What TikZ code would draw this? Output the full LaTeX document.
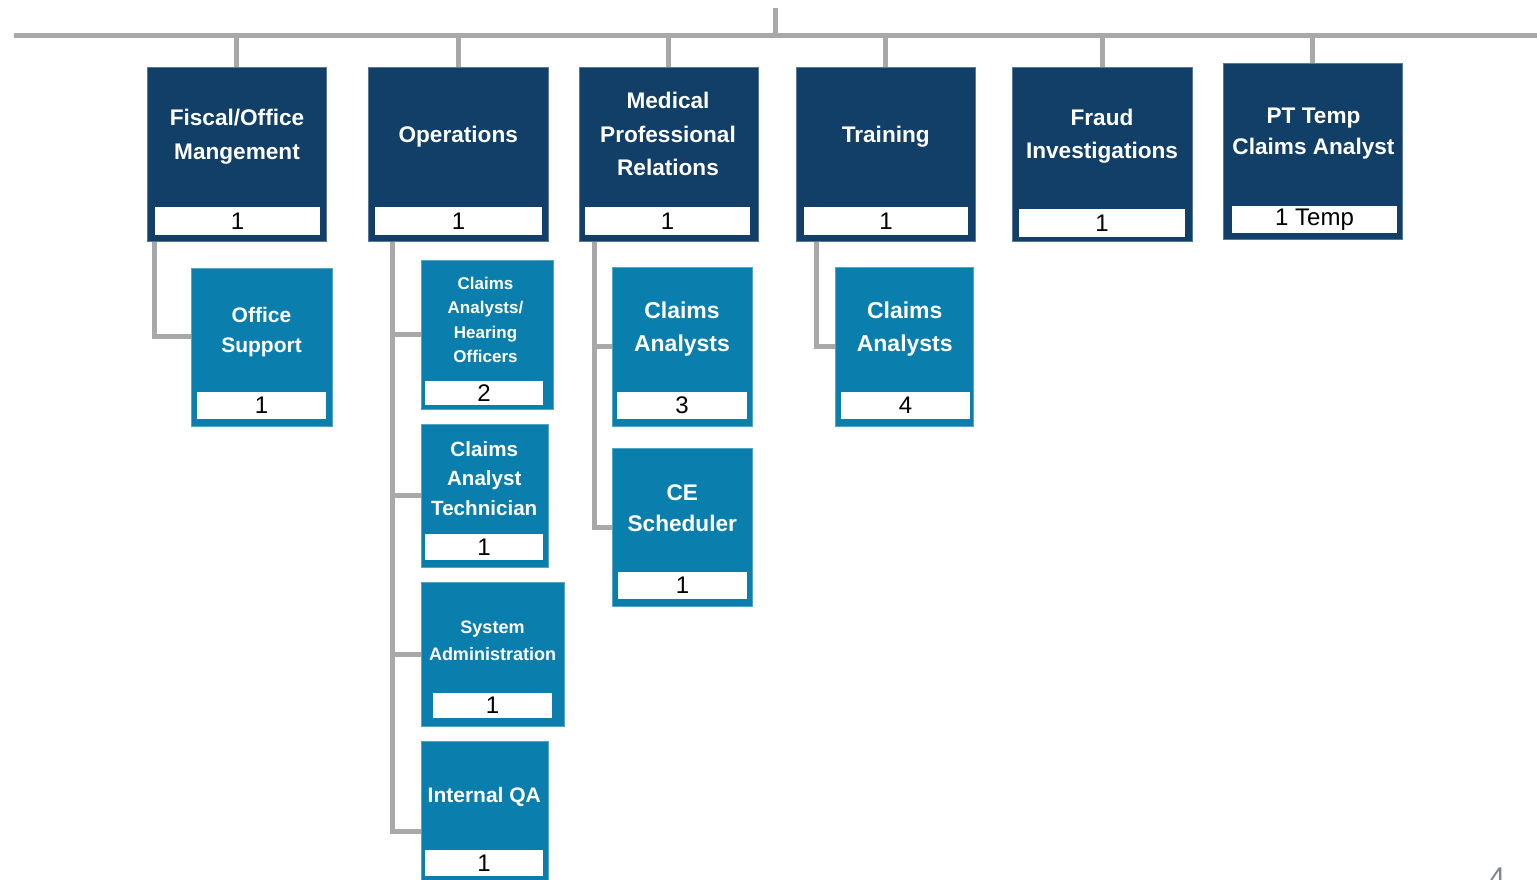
\documentclass[tikz,border=0pt]{standalone}
\usepackage{fontspec}
\setmainfont{Liberation Sans}
\usetikzlibrary{fit,calc}

\definecolor{orgnavy}{HTML}{113F67}
\definecolor{orgteal}{HTML}{0A7EAD}
\definecolor{linkgray}{HTML}{A8A8A8}
\definecolor{pagegray}{HTML}{7F8690}

\tikzset{
  link/.style={draw=linkgray, line width=2.5pt},
  mainbox/.style={fill=orgnavy, draw=orgnavy!70!white, line width=0.5pt, inner sep=0pt},
  subbox/.style={fill=orgteal, draw=orgteal!70!white, line width=0.5pt, inner sep=0pt},
  countbar/.style={fill=white, inner sep=0pt},
  countnum/.style={inner sep=0pt, font=\fontsize{12}{14}\selectfont},
  title/.style={text=white, align=center, inner sep=0pt},
  headtext/.style={title, font=\bfseries\fontsize{11.3}{16.8}\selectfont}
}

\begin{document}
\begin{tikzpicture}[x=0.5pt, y=-0.5pt]
  \useasboundingbox (0,0) rectangle (1537,879);
  \coordinate (busL) at (14,35.5);
  \coordinate (busR) at (1537,35.5);
  \coordinate (head) at (775,8);

  % first row
  \node[mainbox, fit={(147,67) (326,241)}] (fisc) {};
  \node[countbar, fit={(155,207) (320,235)}, label={[countnum]center:1}] (fiscN) {};
  \node[headtext] (fiscT) at ($(fisc.north)!0.5!(fiscN.north)$) {Fiscal/Office\\Mangement};

  \node[mainbox, fit={(368,67) (548,241)}] (ops) {};
  \node[countbar, fit={(375,207) (542,235)}, label={[countnum]center:1}] (opsN) {};
  \node[headtext] (opsT) at ($(ops.north)!0.5!(opsN.north)$) {Operations};

  \node[mainbox, fit={(579,67) (758,241)}] (med) {};
  \node[countbar, fit={(585,207) (750,235)}, label={[countnum]center:1}] (medN) {};
  \node[headtext, yshift=1.25pt] (medT) at ($(med.north)!0.5!(medN.north)$) {Medical\\Professional\\Relations};

  \node[mainbox, fit={(796,67) (975,241)}] (train) {};
  \node[countbar, fit={(804,207) (968,235)}, label={[countnum]center:1}] (trainN) {};
  \node[headtext] (trainT) at ($(train.north)!0.5!(trainN.north)$) {Training};

  \node[mainbox, fit={(1012,67) (1192,241)}] (fraud) {};
  \node[countbar, fit={(1019,209) (1185,237)}, label={[countnum]center:1}] (fraudN) {};
  \node[headtext, yshift=0.75pt] (fraudT) at ($(fraud.north)!0.5!(fraudN.north)$) {Fraud\\Investigations};

  \node[mainbox, fit={(1223,63) (1402,239)}] (pt) {};
  \node[countbar, fit={(1232,206) (1397,233)}, label={[countnum]center:1 Temp}] (ptN) {};
  \node[headtext, font=\bfseries\fontsize{11.3}{15.5}\selectfont] (ptT)
    at ($(pt.north)!0.5!(ptN.north)$) {PT Temp\\Claims Analyst};

  % second level
  \node[subbox, fit={(191,268) (332,426)}] (office) {};
  \node[countbar, fit={(197,392) (326,419)}, label={[countnum]center:1}] (officeN) {};
  \node[title, font=\bfseries\fontsize{10.5}{15}\selectfont, yshift=-1.5pt] (officeT)
    at ($(office.north)!0.5!(officeN.north)$) {Office\\Support};

  \node[subbox, fit={(421,260) (553,409)}] (hear) {};
  \node[countbar, fit={(425,381) (543,405)}, label={[countnum]center:2}] (hearN) {};
  \node[title, font=\bfseries\fontsize{8.5}{12.2}\selectfont] (hearT)
    at ($(hear.north)!0.5!(hearN.north)$) {Claims\\Analysts/\\Hearing\\Officers};

  \node[subbox, fit={(421,424) (548,567)}] (tech) {};
  \node[countbar, fit={(425,534) (543,560)}, label={[countnum]center:1}] (techN) {};
  \node[title, font=\bfseries\fontsize{10.3}{14.8}\selectfont] (techT)
    at ($(tech.north)!0.5!(techN.north)$) {Claims\\Analyst\\Technician};

  \node[subbox, fit={(421,582) (564,726)}] (sysadm) {};
  \node[countbar, fit={(433,693) (552,718)}, label={[countnum]center:1}] (sysadmN) {};
  \node[title, font=\bfseries\fontsize{9}{13.5}\selectfont, yshift=-1.75pt] (sysadmT)
    at ($(sysadm.north)!0.5!(sysadmN.north)$) {System\\Administration};

  \node[subbox, fit={(421,741) (548,921)}] (intqa) {};
  \node[countbar, fit={(425,850) (543,876)}, label={[countnum]center:1}] (intqaN) {};
  \node[title, font=\bfseries\fontsize{10.5}{15}\selectfont, yshift=-1pt] (intqaT)
    at ($(intqa.north)!0.5!(intqaN.north)$) {Internal QA};

  \node[subbox, fit={(612,267) (752,426)}] (medca) {};
  \node[countbar, fit={(617,392) (747,419)}, label={[countnum]center:3}] (medcaN) {};
  \node[title, font=\bfseries\fontsize{11.5}{16.5}\selectfont] (medcaT)
    at ($(medca.north)!0.5!(medcaN.north)$) {Claims\\Analysts};

  \node[subbox, fit={(612,448) (752,606)}] (cesched) {};
  \node[countbar, fit={(618,572) (747,599)}, label={[countnum]center:1}] (ceschedN) {};
  \node[title, font=\bfseries\fontsize{11.3}{15.5}\selectfont, yshift=0.75pt] (ceschedT)
    at ($(cesched.north)!0.5!(ceschedN.north)$) {CE\\Scheduler};

  \node[subbox, fit={(835,267) (973,426)}] (trainca) {};
  \node[countbar, fit={(841,392) (970,419)}, label={[countnum]center:4}] (traincaN) {};
  \node[title, font=\bfseries\fontsize{11.5}{16.5}\selectfont] (traincaT)
    at ($(trainca.north)!0.5!(traincaN.north)$) {Claims\\Analysts};

  % connectors
  \draw[link] (busL) -- (busR);
  \draw[link] (head) -- (head |- busL);
  \foreach \n in {fisc,ops,med,train,fraud,pt}
    \draw[link] (\n.north) -- (\n.north |- busL);
  \draw[link] (fisc.south west) ++(8,0) |- ([yshift=5.5pt]office.west);
  \foreach \n in {hear,tech,sysadm,intqa}
    \draw[link] (ops.south west) ++(25,0) |- (\n.west);
  \foreach \n in {medca,cesched}
    \draw[link] (med.south west) ++(16,0) |- (\n.west);
  \draw[link] (train.south west) ++(21,0) |- (trainca.west);

  \node[text=pagegray, font=\fontsize{15}{18}\selectfont, anchor=base] (page) at (1497,888) {4};
\end{tikzpicture}
\end{document}
